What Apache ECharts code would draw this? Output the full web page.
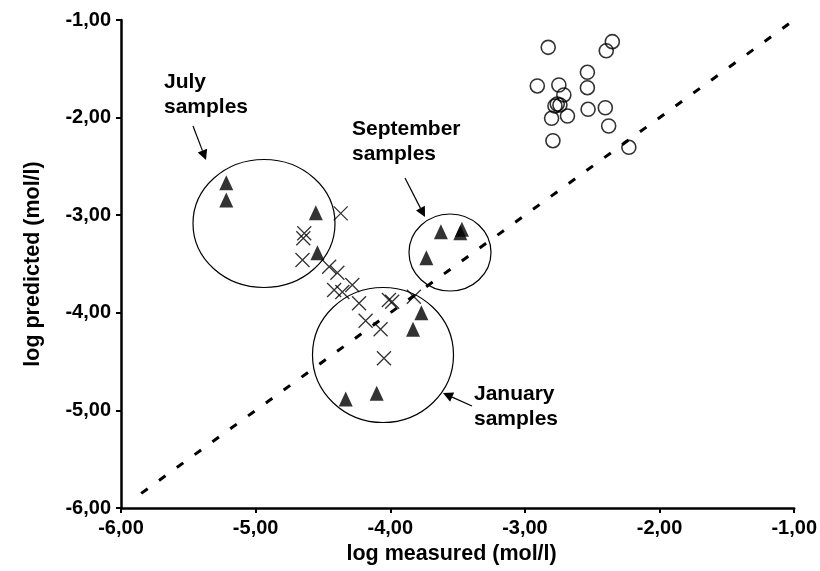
<!DOCTYPE html>
<html>
<head>
<meta charset="utf-8">
<script src="https://cdn.jsdelivr.net/npm/echarts@6/dist/echarts.min.js"></script>
<style>
html,body{margin:0;padding:0;background:#fff;}
#c{width:820px;height:571px;}
</style>
</head>
<body>
<div id="c"></div>
<script>
// Open circles (upper right cluster)
const circleX = [-2.827,-2.351,-2.396,-2.536,-2.908,-2.748,-2.536,-2.711,-2.777,-2.740,-2.760,-2.802,-2.684,-2.531,-2.403,-2.378,-2.792,-2.228];
const circleY = [-1.280,-1.222,-1.315,-1.536,-1.676,-1.666,-1.694,-1.768,-1.881,-1.871,-1.861,-2.007,-1.984,-1.915,-1.899,-2.086,-2.237,-2.304];
// Filled triangles (sample campaigns)
const triX = [-5.218,-5.218,-4.553,-4.541,-3.624,-3.468,-3.480,-3.732,-3.769,-3.831,-4.331,-4.101];
const triY = [-2.667,-2.844,-2.974,-3.384,-3.169,-3.145,-3.179,-3.435,-3.999,-4.169,-4.883,-4.825];
// Crosses
const crossX = [-4.368,-4.639,-4.646,-4.652,-4.454,-4.393,-4.417,-4.356,-4.282,-4.232,-4.010,-3.986,-3.825,-4.183,-4.072,-4.047];
const crossY = [-2.981,-3.185,-3.237,-3.459,-3.528,-3.589,-3.766,-3.787,-3.715,-3.903,-3.869,-3.886,-3.835,-4.081,-4.169,-4.466];
// 1:1 line
const lineX = [-5.85, -1];
const lineY = [-5.85, -1];
const xTicks = [-6,-5,-4,-3,-2,-1];
const yTicks = [-6,-5,-4,-3,-2,-1];

const zip = (a,b) => a.map((v,i)=>[v,b[i]]);
const fmt = v => v.toFixed(2).replace('.', ',');
const FONT = '"Liberation Sans", Arial, sans-serif';

const chart = echarts.init(document.getElementById('c'), null, {renderer:'canvas'});
const option = {
  animation:false,
  backgroundColor:'#fff',
  grid:{left:121, right:23, top:20, bottom:63, containLabel:false},
  xAxis:{
    type:'value', min:xTicks[0], max:xTicks[xTicks.length-1], interval:1,
    name:'log measured (mol/l)', nameLocation:'middle', nameGap:32,
    nameTextStyle:{fontFamily:FONT, fontWeight:'bold', fontSize:21.5, color:'#000', padding:[0,12,0,0]},
    axisLine:{onZero:false, lineStyle:{color:'#000', width:2.5}},
    axisTick:{show:true, length:5, lineStyle:{color:'#000', width:2}},
    axisLabel:{formatter:fmt, margin:10, fontFamily:FONT, fontWeight:'bold', fontSize:20, color:'#000'},
    splitLine:{show:false}
  },
  yAxis:{
    type:'value', min:yTicks[0], max:yTicks[yTicks.length-1], interval:1,
    name:'log predicted (mol/l)', nameLocation:'middle', nameGap:77,
    nameTextStyle:{fontFamily:FONT, fontWeight:'bold', fontSize:21.5, color:'#000'},
    axisLine:{onZero:false, lineStyle:{color:'#000', width:2.5}},
    axisTick:{show:true, length:5, lineStyle:{color:'#000', width:2}},
    axisLabel:{formatter:fmt, margin:10, fontFamily:FONT, fontWeight:'bold', fontSize:20, color:'#000'},
    splitLine:{show:false}
  },
  series:[
    {type:'line', data:zip(lineX,lineY), symbol:'none', z:1,
     lineStyle:{color:'#000', width:3, type:[8,14]}},
    {type:'scatter', data:zip(circleX,circleY), symbol:'circle', symbolSize:14, z:3,
     itemStyle:{color:'rgba(255,255,255,0)', borderColor:'#000', borderWidth:1.6}},
    {type:'scatter', data:zip(crossX,crossY), symbol:'path://M0,0L10,10M10,0L0,10', symbolSize:14, z:3,
     itemStyle:{color:'rgba(0,0,0,0)', borderColor:'#000', borderWidth:1.3}},
    {type:'scatter', data:zip(triX,triY), symbol:'triangle', symbolSize:[14,15], z:4,
     itemStyle:{color:'#000', borderWidth:0}}
  ]
};
chart.setOption(option);

// Annotations (ellipses, arrows, labels)
function arrow(x1,y1,x2,y2){
  const ang = Math.atan2(y2-y1, x2-x1);
  const L = 10, W = 5;
  const bx = x2 - L*Math.cos(ang), by = y2 - L*Math.sin(ang);
  const px = -Math.sin(ang)*W, py = Math.cos(ang)*W;
  return [
    {type:'line', shape:{x1:x1,y1:y1,x2:bx,y2:by}, style:{stroke:'#000', lineWidth:1.2}, z:10},
    {type:'polygon', shape:{points:[[x2,y2],[bx+px,by+py],[bx-px,by-py]]}, style:{fill:'#000'}, z:10}
  ];
}
const ell = (cx,cy,rx,ry) => ({type:'ellipse', shape:{cx:cx,cy:cy,rx:rx,ry:ry},
  style:{fill:null, stroke:'#000', lineWidth:1.2}, z:10, silent:true});
const txt = (x,y,t) => ({type:'text', x:x, y:y, style:{text:t, font:'bold 21px '+FONT, fill:'#000', lineHeight:25, textVerticalAlign:'top'}, z:10});

const graphics = [
  ell(264,223.5,71,64),
  ell(450,252.5,41,38.5),
  ell(383,355,70.5,67.5),
  ...arrow(193,126,206,160),
  ...arrow(405,178,425,217),
  ...arrow(472,406,443,393),
  txt(164,70,'July\nsamples'),
  txt(352,117,'September\nsamples'),
  txt(474,382,'January\nsamples')
];
chart.setOption({graphic:graphics});
</script>
</body>
</html>
